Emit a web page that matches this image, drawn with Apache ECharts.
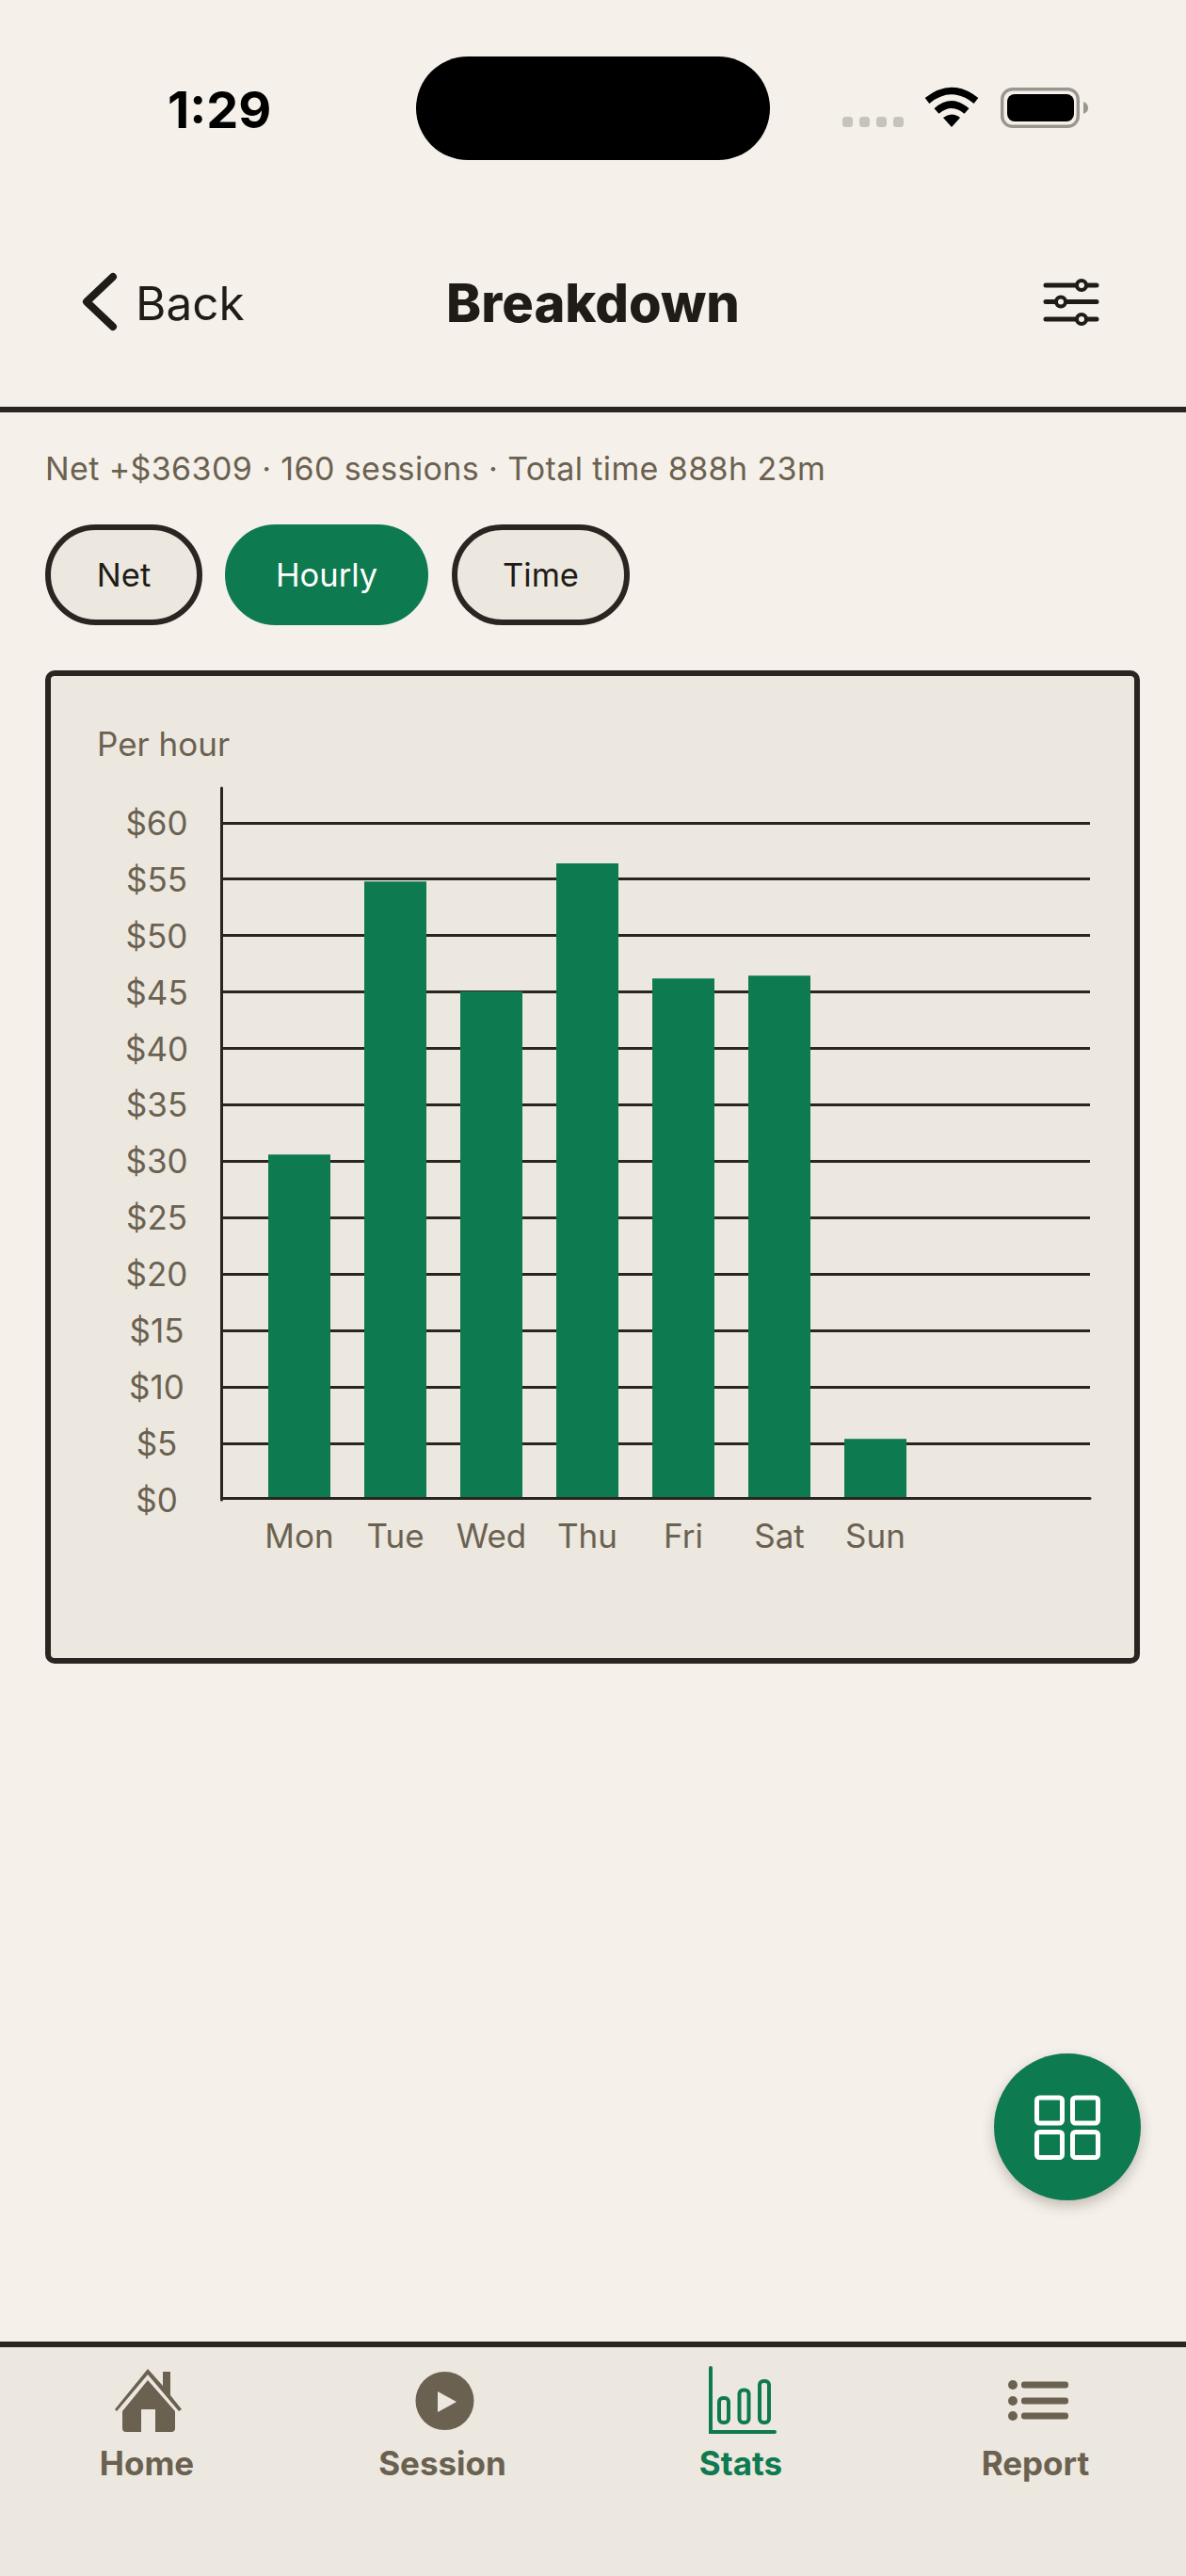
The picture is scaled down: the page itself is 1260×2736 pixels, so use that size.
<!DOCTYPE html>
<html>
<head>
<meta charset="utf-8">
<script src="https://cdn.jsdelivr.net/npm/echarts@6/dist/echarts.min.js"></script>
<style>
html,body{margin:0;padding:0;background:#f5f1ea;}
#app{position:relative;width:1260px;height:2736px;overflow:hidden;font-family:Inter,sans-serif;color:#1f1b16;}
.t{position:absolute;white-space:nowrap;line-height:1;}
.box{position:absolute;box-sizing:border-box;}
svg{position:absolute;left:0;top:0;}
.pill{position:absolute;box-sizing:border-box;top:557px;height:107px;border-radius:54px;border:6px solid #2a2520;background:#ece8e0;
  display:flex;align-items:center;justify-content:center;font-size:34.5px;color:#1f1b16;}
.pill.on{background:#0e7a4f;border-color:#0e7a4f;color:#fff;}
.tab{position:absolute;top:2599px;font-size:35px;font-weight:700;line-height:1;color:#6b6150;transform:translateX(-50%);white-space:nowrap;}
</style>
</head>
<body>
<div id="app">
  <div class="t" style="left:178px;top:90px;font-size:54px;font-weight:700;color:#000;font-family:Inter">1:29</div>

  <div class="box" style="left:442px;top:60px;width:376px;height:110px;border-radius:55px;background:#000"></div>

  <div class="t" style="left:144px;top:298px;font-size:49.5px">Back</div>
  <div class="t" style="left:630px;top:294px;font-size:56px;font-weight:800;transform:translateX(-50%)">Breakdown</div>
  <div class="box" style="left:0;top:432px;width:1260px;height:6px;background:#2a2520"></div>

  <div class="t" style="left:48px;top:481px;font-size:34px;letter-spacing:.38px;color:#6b6150">Net +$36309 · 160 sessions · Total time 888h 23m</div>

  <div class="pill" style="left:48px;width:167px">Net</div>
  <div class="pill on" style="left:239px;width:216px">Hourly</div>
  <div class="pill" style="left:480px;width:189px">Time</div>

  <div class="box" style="left:48px;top:712px;width:1163px;height:1055px;border:6px solid #2a2520;border-radius:10px;background:#ece8e0">
    <div id="chart" style="position:absolute;left:0;top:0;width:1151px;height:1043px"></div>
  </div>

  <div class="box" style="left:1056px;top:2181px;width:156px;height:156px;border-radius:78px;background:#0e7a4f;box-shadow:0 6px 14px rgba(60,50,40,.28)"></div>

  <div class="box" style="left:0;top:2487px;width:1260px;height:249px;background:#ece8e0;border-top:6px solid #2a2520"></div>
  <div class="tab" style="left:156px">Home</div>
  <div class="tab" style="left:470px">Session</div>
  <div class="tab" style="left:787px;color:#0e7a4f">Stats</div>
  <div class="tab" style="left:1100px">Report</div>

  <svg width="1260" height="2736" viewBox="0 0 1260 2736">
    <!-- status bar -->
    <g fill="#c6c3bb">
      <rect x="895" y="124" width="11" height="11" rx="3.5"/><rect x="913" y="124" width="11" height="11" rx="3.5"/>
      <rect x="931" y="124" width="11" height="11" rx="3.5"/><rect x="949" y="124" width="11" height="11" rx="3.5"/>
    </g>
    <g fill="none" stroke="#000" stroke-width="7.5">
      <path d="M985 107 Q1011 86 1037 107"/>
      <path d="M995 118 Q1011 104 1027 118"/>
    </g>
    <path d="M1002 125 Q1011 118 1020 125 L1011 135 Z" fill="#000"/>
    <rect x="1064.700" y="94.700" width="80.600" height="39.600" rx="11" fill="none" stroke="#9a968e" stroke-width="3.400"/>
    <rect x="1070" y="100" width="71" height="29" rx="8" fill="#000"/>
    <path d="M1151 108 Q1156 110 1156 114.500 Q1156 119 1151 121 Z" fill="#9a968e"/>
    <!-- back + filter -->
    <path d="M120 294 L92 320.5 L120 347" fill="none" stroke="#1f1b16" stroke-width="8" stroke-linecap="round" stroke-linejoin="round"/>
    <g stroke="#1f1b16" stroke-width="5" stroke-linecap="round">
      <path d="M1111 303H1165M1111 320.5H1165M1111 339H1165"/>
    </g>
    <g fill="#f5f1ea" stroke="#1f1b16" stroke-width="4">
      <circle cx="1149" cy="303" r="5"/><circle cx="1127" cy="320.5" r="5"/><circle cx="1149" cy="339" r="5"/>
    </g>
    <!-- fab icon -->
    <g fill="none" stroke="#fff" stroke-width="5">
      <rect x="1101.5" y="2228" width="27" height="27" rx="3"/><rect x="1139.5" y="2228" width="27" height="27" rx="3"/>
      <rect x="1101.5" y="2264.5" width="27" height="27" rx="3"/><rect x="1139.5" y="2264.5" width="27" height="27" rx="3"/>
    </g>
    <!-- tab icons -->
    <path d="M157 2516 L173 2534 V2519 H181 V2544 L193 2559 L190 2561 L157 2522 L124 2561 L122 2559 Z" fill="#6b6150"/>
    <path d="M157 2528 L186 2561 V2579 Q186 2583 182 2583 H165 V2559 H150 V2583 H134 Q130 2583 130 2579 V2561 Z" fill="#6b6150"/>
    <circle cx="472.5" cy="2550" r="31" fill="#6b6150"/>
    <path d="M465 2540 L485 2551 L465 2562 Z" fill="#ece8e0"/>
    <g fill="none" stroke="#0e7a4f" stroke-width="4">
      <path d="M755 2515 V2583 H823" stroke-linecap="round"/>
      <rect x="764" y="2547" width="10" height="26" rx="4"/><rect x="785.500" y="2538.500" width="10" height="34.500" rx="4"/><rect x="807" y="2529" width="10" height="44" rx="4"/>
    </g>
    <g fill="#6b6150">
      <circle cx="1076" cy="2533" r="5"/><circle cx="1076" cy="2550" r="5"/><circle cx="1076" cy="2566" r="5"/>
      <rect x="1085" y="2529.500" width="50" height="7" rx="3"/><rect x="1085" y="2546.500" width="50" height="7" rx="3"/><rect x="1085" y="2562.500" width="50" height="7" rx="3"/>
    </g>
  </svg>
</div>

<script>
var days = ['Mon', 'Tue', 'Wed', 'Thu', 'Fri', 'Sat', 'Sun'];
var perHour = [30.6, 54.8, 45.05, 56.4, 46.2, 46.45, 5.4];
var yStep = 5;
var yTop = 63.07;   // axis line runs a bit past the $60 grid line

var chart = echarts.init(document.getElementById('chart'), null, {renderer: 'svg'});
var dark = '#2a2520', muted = '#6b6150';

chart.setOption({
    animation: false,
    title: {
        text: 'Per hour',
        left: 49,
        top: 54,
        padding: 0,
        textStyle: {color: muted, fontSize: 35, fontWeight: 'normal', fontFamily: 'Inter'}
    },
    grid: [
        // full width frame: y axis and grid lines
        {left: 181.5, top: 119, width: 922.5, height: 756},
        // seven day bands that hold the bars
        {left: 213, top: 119, width: 714, height: 756}
    ],
    xAxis: [
        {
            gridIndex: 0, type: 'value', min: 0, max: 1, offset: -1.5, z: 3,
            axisLine: {show: true, onZero: false, lineStyle: {color: dark, width: 3}},
            axisTick: {show: false}, axisLabel: {show: false}, splitLine: {show: false}
        },
        {
            gridIndex: 1, type: 'category', data: days,
            axisLine: {show: false}, axisTick: {show: false},
            axisLabel: {color: muted, fontSize: 35, fontFamily: 'Inter', margin: 20}
        }
    ],
    yAxis: [
        {
            gridIndex: 0, type: 'value', min: 0, max: yTop, interval: yStep,
            axisLine: {show: true, lineStyle: {color: dark, width: 3}},
            axisTick: {show: false},
            axisLabel: {
                color: muted, fontSize: 35, fontFamily: 'Inter', margin: 69, align: 'center', showMaxLabel: false,
                formatter: function (v) { return '$' + v; }
            },
            splitLine: {show: true, showMinLine: false, showMaxLine: false, lineStyle: {color: dark, width: 3}}
        },
        {gridIndex: 1, type: 'value', min: 0, max: yTop, show: false, splitLine: {show: false}}
    ],
    series: [{
        type: 'bar',
        xAxisIndex: 1,
        yAxisIndex: 1,
        data: perHour,
        barWidth: 66,
        itemStyle: {color: '#0e7a4f'}
    }]
});
</script>
</body>
</html>
